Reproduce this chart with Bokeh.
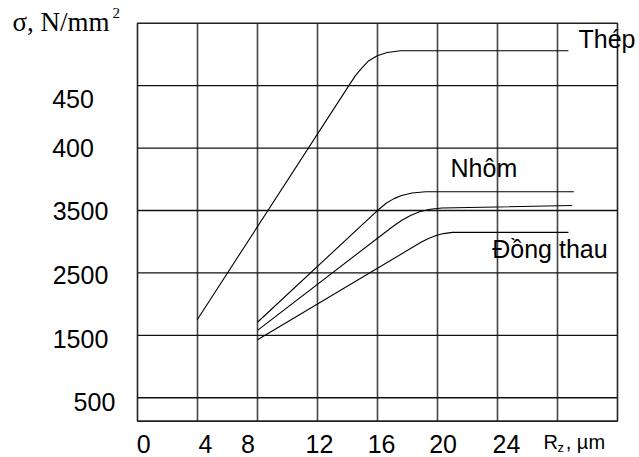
from bokeh.plotting import figure
from bokeh.models import Range1d
from bokeh.core.properties import value
from bokeh.embed import file_html
from bokeh.resources import INLINE

# ---------------- data ----------------
x_tick_labels = ["0", "4", "8", "12", "16", "20", "24"]
y_tick_labels = ["500", "1500", "2500", "3500", "400", "450"]
y_levels = [0, 1, 2, 3, 4, 5]
grid_x = [4, 8, 12, 16, 20, 24, 28]

thep_x = [3.98, 14.09, 14.53, 14.98, 15.42, 15.98, 16.65, 17.53, 28.73]
thep_y = [1.25, 5.00, 5.16, 5.29, 5.40, 5.48, 5.53, 5.56, 5.56]

nhom_x = [8.0, 15.6, 16.1, 16.6, 17.1, 17.6, 18.3, 19.2, 29.09]
nhom_y = [1.21, 2.91, 3.02, 3.12, 3.19, 3.24, 3.28, 3.30, 3.30]

mid_x = [8.0, 17.0, 17.6, 18.2, 18.8, 19.5, 20.3, 28.98]
mid_y = [1.08, 2.74, 2.84, 2.92, 2.98, 3.02, 3.04, 3.08]

dong_x = [8.0, 18.9, 19.4, 19.9, 20.4, 21.0, 28.73]
dong_y = [0.93, 2.49, 2.55, 2.60, 2.63, 2.65, 2.65]

series_names = ["Thép", "Nhôm", "Đồng thau"]

# ---------------- layout ----------------
SANS = value("Liberation Sans")
SERIF = value("Liberation Serif")
FS = value("25px")

# frame extent in data units
X0, X1 = 0, 32
Y0, Y1 = -0.375, 6

p = figure(width=639, height=457, output_backend="svg", toolbar_location=None,
           x_range=Range1d(-9.133, 33.467), y_range=Range1d(-0.957, 6.364),
           x_axis_type=None, y_axis_type=None, min_border=0)
p.outline_line_color = None
p.background_fill_color = "white"
p.border_fill_color = "white"
p.xgrid.visible = False
p.ygrid.visible = False

# grid lines
p.segment(x0=grid_x, y0=[Y0] * len(grid_x), x1=grid_x, y1=[Y1] * len(grid_x),
          line_color="#444444", line_width=1.6)
p.segment(x0=[X0] * len(y_levels), y0=y_levels, x1=[X1] * len(y_levels), y1=y_levels,
          line_color="#111111", line_width=1.3)
# frame
p.quad(left=[X0], right=[X1], bottom=[Y0], top=[Y1], fill_color=None,
       line_color="#222222", line_width=1.6)

for xs, ys in [(thep_x, thep_y), (nhom_x, nhom_y), (mid_x, mid_y), (dong_x, dong_y)]:
    p.line(xs, ys, line_color="black", line_width=1.1)

# tick labels (positions of the printed labels)
xlab_x = [0.42, 4.53, 7.37, 12.13, 16.27, 20.37, 24.6]
p.text(x=xlab_x, y=[-0.74] * len(xlab_x), text=x_tick_labels, text_align="center",
       text_baseline="middle", text_font=SANS, text_font_size=FS, text_color="black")

ylab_x = [-2.87, -3.8, -3.8, -3.8, -4.3, -4.3]
ylab_y = [-0.07, 0.94, 1.97, 2.99, 4.0, 4.78]
p.text(x=ylab_x, y=ylab_y, text=y_tick_labels, text_align="center",
       text_baseline="middle", text_font=SANS, text_font_size=FS, text_color="black")

# series labels
name_x = [29.4, 20.87, 23.65]
name_y = [5.75, 3.676, 2.386]
p.text(x=name_x, y=name_y, text=series_names, text_align="left",
       text_baseline="middle", text_font=SANS, text_font_size=FS, text_color="black")

# axis titles
p.text(x=[-8.33], y=[6.017], text=["σ, N/mm"], text_font=SERIF, text_font_size=value("27px"),
       text_baseline="middle", text_align="left", text_color="black")
p.text(x=[-1.67], y=[6.17], text=["2"], text_font=SERIF, text_font_size=value("15px"),
       text_baseline="middle", text_align="left", text_color="black")
p.text(x=[27.07], y=[-0.716], text=["R"], text_font=SANS, text_font_size=value("20px"),
       text_baseline="middle", text_align="left", text_color="black")
p.text(x=[28.0], y=[-0.79], text=["z"], text_font=SANS, text_font_size=value("13px"),
       text_baseline="middle", text_align="left", text_color="black")
p.text(x=[28.55], y=[-0.716], text=[", µm"], text_font=SANS, text_font_size=value("20px"),
       text_baseline="middle", text_align="left", text_color="black")

open("out.html", "w").write(file_html(p, INLINE))
